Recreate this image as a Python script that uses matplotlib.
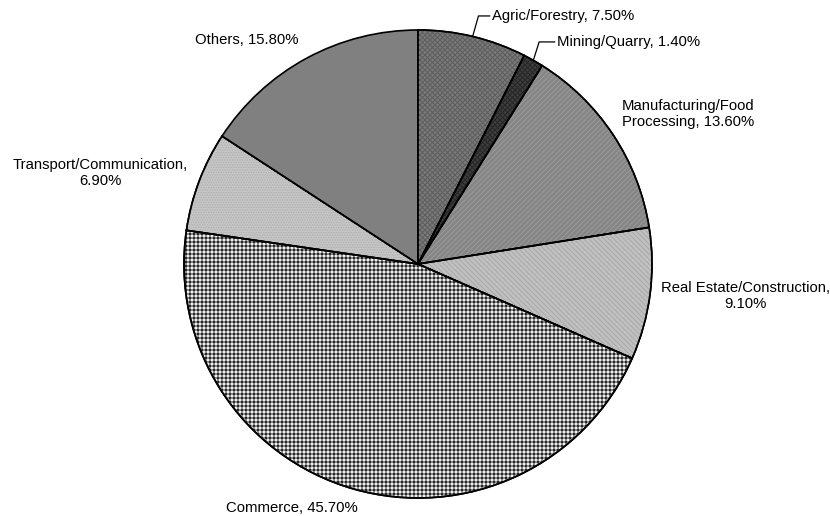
import matplotlib.pyplot as plt
from matplotlib.patches import Wedge
import numpy as np

plt.rcParams['font.family'] = ['Liberation Sans', 'DejaVu Sans']
plt.rcParams['hatch.linewidth'] = 0.6

sectors = ['Agric/Forestry', 'Mining/Quarry', 'Manufacturing/Food\nProcessing',
           'Real Estate/Construction,\n', 'Commerce', 'Transport/Communication,\n', 'Others']
shares = [7.5, 1.4, 13.6, 9.1, 45.7, 6.9, 15.8]
colors = ['#7a7a7a', '#3e3e3e', '#858585', '#c0c0c0', '#f0f0f0', '#c6c6c6', '#808080']
hatches = ['xxxxxxxx', 'xxxxxxxx', '////////', '\\\\\\\\\\\\\\\\', '+++++', '........', None]
hatch_colors = ['#5e5e5e', '#262626', '#9a9a9a', '#aaaaaa', '#282828', '#b0b0b0', None]

# label anchor positions (data units, pie radius = 1)
label_pos = [(0.316, 1.06), (0.594, 0.949), (0.872, 0.641), (1.40, -0.136),
             (-0.538, -1.043), (-1.359, 0.389), (-0.733, 0.957)]
label_ha = ['left', 'left', 'left', 'center', 'center', 'center', 'center']

DPI = 120
fig = plt.figure(figsize=(830 / DPI, 516 / DPI), dpi=DPI)
ax = fig.add_axes([0, 0, 1, 1])
R = 234.0

wedges, _ = ax.pie(shares, colors=colors, startangle=90, counterclock=False,
                   wedgeprops=dict(edgecolor='black', linewidth=1.0))
ax.set_xlim(-418 / R, (830 - 418) / R)
ax.set_ylim(-(516 - 264) / R, 264 / R)
ax.set_aspect('auto')
ax.axis('off')

for w, h, hc in zip(wedges, hatches, hatch_colors):
    if h is None:
        continue
    ov = Wedge(w.center, w.r, w.theta1, w.theta2, facecolor='none',
               edgecolor=hc, linewidth=0, hatch=h, zorder=w.get_zorder() + 0.1)
    ax.add_patch(ov)
    outline = Wedge(w.center, w.r, w.theta1, w.theta2, facecolor='none',
                    edgecolor='black', linewidth=1.0, zorder=w.get_zorder() + 0.2)
    ax.add_patch(outline)

for i, (w, name, val) in enumerate(zip(wedges, sectors, shares)):
    if name.endswith('\n'):
        txt = f'{name}{val:.2f}%'
    else:
        txt = f'{name}, {val:.2f}%'
    tx, ty = label_pos[i]
    if i < 2:
        ang = np.deg2rad((w.theta1 + w.theta2) / 2)
        px, py = np.cos(ang), np.sin(ang)
        ax.plot([px, px + 0.025, tx - 0.01], [py, ty, ty], color='black', lw=0.75)
    ax.text(tx, ty, txt, ha=label_ha[i], va='center', fontsize=8.9,
            multialignment=label_ha[i], linespacing=1.15)

fig.savefig('out.png', dpi=DPI)
